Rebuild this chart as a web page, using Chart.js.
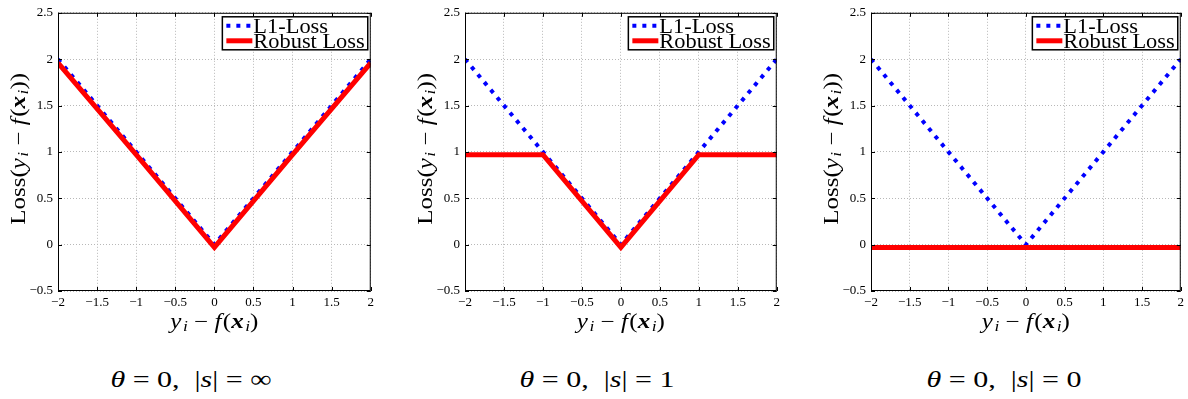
<!DOCTYPE html>
<html>
<head>
<meta charset="utf-8">
<script src="https://cdn.jsdelivr.net/npm/chart.js@4.4.1/dist/chart.umd.min.js"></script>
<style>
  body { margin: 0; background: #fff; width: 1188px; height: 399px; position: relative; overflow: hidden; font-family: "Liberation Serif", "Times New Roman", serif; }
  .panel { position: absolute; top: 0; height: 340px; }
  .caption { position: absolute; top: 365px; font-family: "Liberation Serif", "Times New Roman", serif; font-size: 24px; line-height: 28px; color: #000; white-space: pre; transform: translateX(-50%) scaleX(1.25); }
</style>
</head>
<body>
<div class="panel" style="left:0px;width:378px"><canvas id="c1"></canvas></div>
<div class="panel" style="left:407px;width:377px"><canvas id="c2"></canvas></div>
<div class="panel" style="left:813px;width:375px"><canvas id="c3"></canvas></div>
<div class="caption" style="left:191px"><i>θ</i> = 0,  |<i>s</i>| = ∞</div>
<div class="caption" style="left:597px"><i>θ</i> = 0,  |<i>s</i>| = 1</div>
<div class="caption" style="left:1004px"><i>θ</i> = 0,  |<i>s</i>| = 0</div>
<script>
// residual y_i - f(x_i) at the kinks
const xVals = [-2, -1, 0, 1, 2];
// L1 loss (same in every panel)
const l1Loss = [2, 1, 0, 1, 2];
// robust loss per panel
const robustInf = [1.96, 0.97, -0.03, 0.97, 1.96];
const robustOne = [0.97, 0.97, -0.03, 0.97, 0.97];
const robustZero = [-0.03, -0.03, -0.03, -0.03, -0.03];
const xTicks = [-2, -1.5, -1, -0.5, 0, 0.5, 1, 1.5, 2];
const yTicks = [-0.5, 0, 0.5, 1, 1.5, 2, 2.5];

const serif = '"Liberation Serif", "Times New Roman", serif';

//parts of "y_i - f(x_i)"
const resid = [
  { t: "y", it: true }, { t: "i", it: true, sub: true }, { t: " \u2212 " },
  { t: "f", it: true }, { t: "(" }, { t: "x", it: true, bold: true },
  { t: "i", it: true, sub: true }, { t: ")" },
];
const lossTitle = [{ t: "Loss(" }].concat(resid, [{ t: ")" }]);

function fmt(v) {
  return (v < 0 ? "\u2212" : "") + Math.abs(v);
}

function drawMath(ctx, parts, size, sx) {
  let total = 0;
  parts.forEach(p => {
    const s = p.sub ? size * 0.7 : size;
    p.font = (p.it ? "italic " : "") + (p.bold ? "bold " : "") + s + "px " + serif;
    ctx.font = p.font;
    p.w = ctx.measureText(p.t).width + (p.it && !p.sub ? size * 0.06 : 0);
    total += p.w;
  });
  ctx.save();
  ctx.scale(sx, 1);
  let x = -total / 2;
  ctx.textBaseline = "alphabetic";
  ctx.fillStyle = "#000";
  parts.forEach(p => {
    ctx.font = p.font;
    ctx.fillText(p.t, x, p.sub ? size * 0.38 + size * 0.15 : size * 0.38);
    x += p.w;
  });
  ctx.restore();
}

//matlab style box, inward ticks, legend and axis labels
const matlabBox = {
  id: "matlabBox",
  afterDraw(chart) {
    const { ctx, chartArea: a, scales } = chart;
    ctx.save();
    ctx.strokeStyle = "#000";
    ctx.lineWidth = 1;
    ctx.strokeRect(a.left + 0.5, a.top + 0.5, a.right - a.left - 1, a.bottom - a.top - 1);
    ctx.beginPath();
    xTicks.forEach(v => {
      const px = Math.round(scales.x.getPixelForValue(v)) + 0.5;
      ctx.moveTo(px, a.bottom); ctx.lineTo(px, a.bottom - 4);
      ctx.moveTo(px, a.top); ctx.lineTo(px, a.top + 4);
    });
    yTicks.forEach(v => {
      const py = Math.round(scales.y.getPixelForValue(v)) + 0.5;
      ctx.moveTo(a.left, py); ctx.lineTo(a.left + 4, py);
      ctx.moveTo(a.right, py); ctx.lineTo(a.right - 4, py);
    });
    ctx.stroke();

    // legend
    const ds = chart.data.datasets;
    const lsx = 1.12;
    ctx.font = "20px " + serif;
    const tw = Math.max(...ds.map(d => ctx.measureText(d.label).width)) * lsx;
    const bw = tw + 34, bh = 33;
    const bx = a.right - 3 - bw, by = a.top + 4;
    ctx.fillStyle = "#fff";
    ctx.fillRect(bx, by, bw, bh);
    ctx.lineWidth = 1.5;
    ctx.strokeRect(bx, by, bw, bh);
    ds.forEach((d, i) => {
      const ly = by + 9 + i * 15;
      ctx.save();
      ctx.strokeStyle = d.borderColor;
      ctx.lineWidth = d.borderWidth;
      ctx.setLineDash(d.borderDash || []);
      ctx.beginPath();
      ctx.moveTo(bx + 4, ly); ctx.lineTo(bx + 30, ly);
      ctx.stroke();
      ctx.restore();
      ctx.save();
      ctx.translate(bx + 31, ly + 7);
      ctx.scale(lsx, 1);
      ctx.fillStyle = "#000";
      ctx.textBaseline = "alphabetic";
      ctx.fillText(d.label, 0, 0);
      ctx.restore();
    });

    // axis titles
    ctx.save();
    ctx.translate((a.left + a.right) / 2, 320);
    drawMath(ctx, resid, 20, 1.25);
    ctx.restore();
    ctx.save();
    ctx.translate(17, (a.top + a.bottom) / 2 - 3);
    ctx.rotate(-Math.PI / 2);
    drawMath(ctx, lossTitle, 20, 1.25);
    ctx.restore();
    ctx.restore();
  },
};

function makeChart(id, robust, rightPad) {
  return new Chart(document.getElementById(id), {
    type: "line",
    plugins: [matlabBox],
    data: {
      datasets: [
        {
          label: "L1-Loss",
          data: xVals.map((x, i) => ({ x: x, y: l1Loss[i] })),
          borderColor: "#0000ff",
          borderWidth: 4,
          borderDash: [4, 6],
          borderCapStyle: "butt",
          pointRadius: 0,
          order: 1,
        },
        {
          label: "Robust Loss",
          data: xVals.map((x, i) => ({ x: x, y: robust[i] })),
          borderColor: "#ff0000",
          borderWidth: 5,
          pointRadius: 0,
          order: 0,
        },
      ],
    },
    options: {
      responsive: true,
      maintainAspectRatio: false,
      animation: false,
      layout: { padding: { top: 9, right: rightPad, left: 0, bottom: 0 } },
      plugins: { legend: { display: false }, tooltip: { enabled: false } },
      scales: {
        x: {
          type: "linear",
          min: -2,
          max: 2,
          afterFit: s => { s.height = 49; },
          afterBuildTicks: s => { s.ticks = xTicks.map(v => ({ value: v })); },
          ticks: { padding: 4, color: "#000", font: { family: serif, size: 13 }, callback: fmt, maxRotation: 0, autoSkip: false },
          grid: { color: "#b8b8b8", drawTicks: false },
          border: { display: false, dash: [1, 2] },
        },
        y: {
          min: -0.5,
          max: 2.5,
          afterFit: s => { s.width = 58; },
          afterBuildTicks: s => { s.ticks = yTicks.map(v => ({ value: v })); },
          ticks: { padding: 5, color: "#000", font: { family: serif, size: 13 }, callback: fmt, autoSkip: false },
          grid: { color: "#b8b8b8", drawTicks: false },
          border: { display: false, dash: [1, 2] },
        },
      },
    },
  });
}

makeChart("c1", robustInf, 6);
makeChart("c2", robustOne, 6);
makeChart("c3", robustZero, 4);
</script>
</body>
</html>
